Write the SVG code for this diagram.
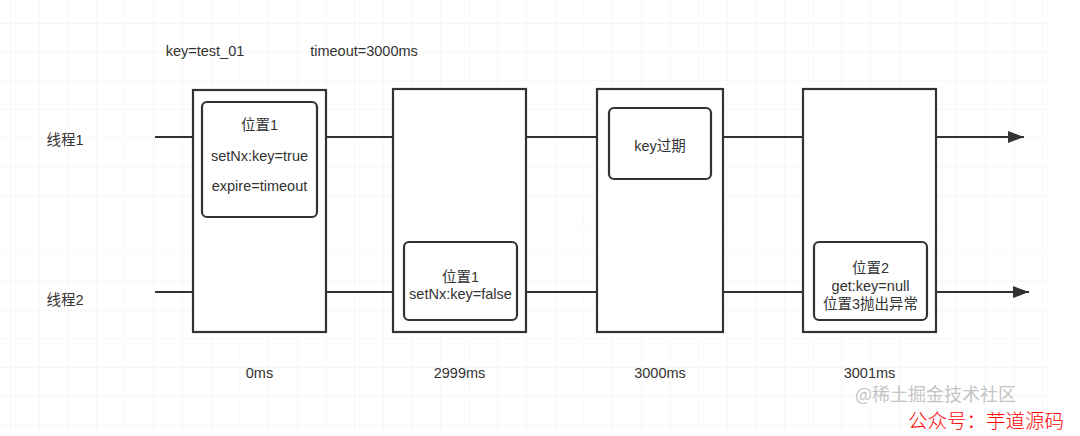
<svg xmlns="http://www.w3.org/2000/svg" width="1080" height="436" viewBox="0 0 1080 436">
<defs>
<pattern id="grid" x="10" y="23" width="28.67" height="28.67" patternUnits="userSpaceOnUse">
<path d="M0 0 V28.67 M0 0 H28.67" fill="none" stroke="#efefef" stroke-width="1"/>
</pattern>
<marker id="arrow" markerWidth="16" markerHeight="12" refX="16" refY="6" orient="auto" markerUnits="userSpaceOnUse">
<path d="M0 0 L16 6 L0 12 Z" fill="#333"/>
</marker>
<style>
.t{font-family:"Liberation Sans","Noto Sans CJK SC",sans-serif;font-size:14.5px;fill:#333;text-anchor:middle;dominant-baseline:central}
.outer{fill:#fff;stroke:#333;stroke-width:2.2}
.inner{fill:#fff;stroke:#333;stroke-width:2.2}
.ln{stroke:#333;stroke-width:2.2;fill:none}
</style>
</defs>
<rect width="1080" height="436" fill="#fff"/>
<rect x="0" y="0" width="1052" height="436" fill="url(#grid)"/>

<g id="header">
<text class="t" x="205" y="51">key=test_01</text>
<text class="t" x="364" y="51">timeout=3000ms</text>
</g>

<g id="labels">
<text class="t" x="65" y="140">线程1</text>
<text class="t" x="65" y="300">线程2</text>
</g>

<g id="connectors">
<line class="ln" x1="155" y1="137" x2="193" y2="137"/>
<line class="ln" x1="326" y1="137" x2="393" y2="137"/>
<line class="ln" x1="526" y1="137" x2="597" y2="137"/>
<line class="ln" x1="723" y1="137" x2="803" y2="137"/>
<line class="ln" x1="936" y1="137" x2="1024" y2="137" marker-end="url(#arrow)"/>
<line class="ln" x1="155" y1="292" x2="193" y2="292"/>
<line class="ln" x1="326" y1="292" x2="393" y2="292"/>
<line class="ln" x1="526" y1="292" x2="597" y2="292"/>
<line class="ln" x1="723" y1="292" x2="803" y2="292"/>
<line class="ln" x1="936" y1="292" x2="1029" y2="292" marker-end="url(#arrow)"/>
</g>

<g id="node-0ms">
<rect class="outer" x="193" y="90" width="133" height="242"/>
<rect class="inner" x="202" y="102" width="115" height="115" rx="5"/>
<text class="t" x="259.5" y="125">位置1</text>
<text class="t" x="259.5" y="156">setNx:key=true</text>
<text class="t" x="259.5" y="186">expire=timeout</text>
<text class="t" x="259.5" y="373">0ms</text>
</g>

<g id="node-2999ms">
<rect class="outer" x="393" y="89" width="133" height="243"/>
<rect class="inner" x="404" y="242" width="113" height="78" rx="5"/>
<text class="t" x="460.5" y="277">位置1</text>
<text class="t" x="460.5" y="294">setNx:key=false</text>
<text class="t" x="459.5" y="373">2999ms</text>
</g>

<g id="node-3000ms">
<rect class="outer" x="597" y="89" width="126" height="243"/>
<rect class="inner" x="609" y="108" width="102" height="71" rx="5"/>
<text class="t" x="660" y="146">key过期</text>
<text class="t" x="660" y="373">3000ms</text>
</g>

<g id="node-3001ms">
<rect class="outer" x="803" y="89" width="133" height="243"/>
<rect class="inner" x="814" y="242" width="113" height="78" rx="5"/>
<text class="t" x="870.5" y="268">位置2</text>
<text class="t" x="870.5" y="286">get:key=null</text>
<text class="t" x="870.5" y="304">位置3抛出异常</text>
<text class="t" x="869.5" y="373">3001ms</text>
</g>

<g id="watermark">
<text x="855" y="401" style="font-family:'Noto Sans CJK SC',sans-serif;font-size:18px;fill:#c4c4c4">@稀土掘金技术社区</text>
<text x="908" y="428" style="font-family:'Noto Sans CJK SC',sans-serif;font-size:19.5px;font-weight:300;fill:#ff0000">公众号：芋道源码</text>
</g>
</svg>
